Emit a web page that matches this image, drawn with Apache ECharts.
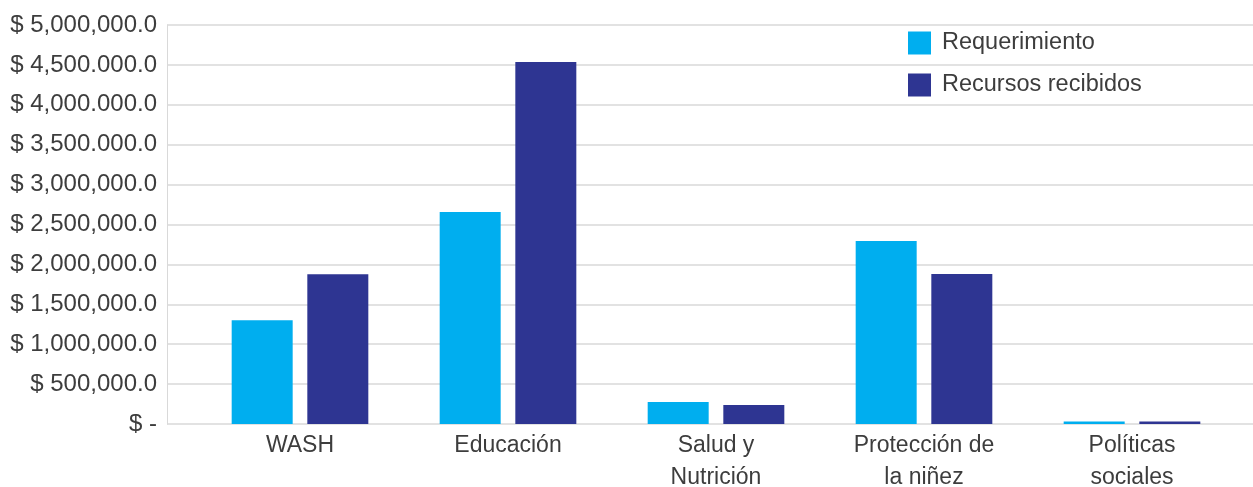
<!DOCTYPE html>
<html>
<head>
<meta charset="utf-8">
<script src="https://cdn.jsdelivr.net/npm/echarts@6/dist/echarts.min.js"></script>
<style>
html,body{margin:0;padding:0;background:#fff;}
#chart{width:1253px;height:487px;}
</style>
</head>
<body>
<div id="chart"></div>
<script>
const categories = ["WASH", "Educación", "Salud y\nNutrición", "Protección de\nla niñez", "Políticas\nsociales"];
const seriesNames = ["Requerimiento", "Recursos recibidos"];
const requerimiento = [1300000, 2657000, 276000, 2293000, 30000];
const recursosRecibidos = [1876000, 4536000, 238000, 1880000, 30000];
const yTickLabels = ["$ -", "$ 500,000.0", "$ 1,000,000.0", "$ 1,500,000.0", "$ 2,000,000.0", "$ 2,500,000.0", "$ 3,000,000.0", "$ 3,500.000.0", "$ 4,000.000.0", "$ 4,500.000.0", "$ 5,000,000.0"];
const yMax = 5000000;
const yStep = 500000;

const FONT = "Liberation Sans";
const TXT = "#3d3d3d";

const chart = echarts.init(document.getElementById('chart'), null, {renderer: 'canvas'});
chart.setOption({
  animation: false,
  backgroundColor: '#ffffff',
  grid: [
    {left: 167, right: 0, top: 25, bottom: 63, containLabel: false, outerBoundsMode: 'none'},
    {left: 196, right: 17, top: 25, bottom: 63, containLabel: false, outerBoundsMode: 'none'}
  ],
  legend: {
    orient: 'vertical',
    left: 903,
    top: 26,
    itemWidth: 23,
    itemHeight: 23,
    itemGap: 18,
    icon: 'rect',
    data: seriesNames,
    textStyle: {fontFamily: FONT, fontSize: 23.5, color: TXT, padding: [0, 0, 0, 6]}
  },
  xAxis: [
    {
      type: 'category', gridIndex: 0, data: categories,
      axisLine: {show: false}, axisTick: {show: false}, axisLabel: {show: false}, splitLine: {show: false}
    },
    {
      type: 'category', gridIndex: 1, data: categories,
      axisLine: {show: false}, axisTick: {show: false},
      axisLabel: {fontFamily: FONT, fontSize: 23, color: TXT, lineHeight: 32, margin: 6, interval: 0}
    }
  ],
  yAxis: [
    {
      type: 'value', gridIndex: 0, min: 0, max: yMax, interval: yStep,
      axisLine: {show: true, lineStyle: {color: '#d9d9d9', width: 1}},
      axisTick: {show: false},
      splitLine: {show: true, lineStyle: {color: '#d9d9d9', width: 1.5}},
      axisLabel: {
        fontFamily: FONT, fontSize: 24, color: TXT, margin: 10,
        formatter: function (v) { return yTickLabels[Math.round(v / yStep)]; }
      }
    },
    {
      type: 'value', gridIndex: 1, min: 0, max: yMax, interval: yStep,
      show: false, splitLine: {show: false}
    }
  ],
  series: [
    {
      name: seriesNames[0], type: 'bar', xAxisIndex: 1, yAxisIndex: 1,
      data: requerimiento, barWidth: 61, barGap: '24%',
      itemStyle: {color: '#00AEEF'}
    },
    {
      name: seriesNames[1], type: 'bar', xAxisIndex: 1, yAxisIndex: 1,
      data: recursosRecibidos, barWidth: 61, barGap: '24%',
      itemStyle: {color: '#2E3592'}
    }
  ]
});
</script>
</body>
</html>
